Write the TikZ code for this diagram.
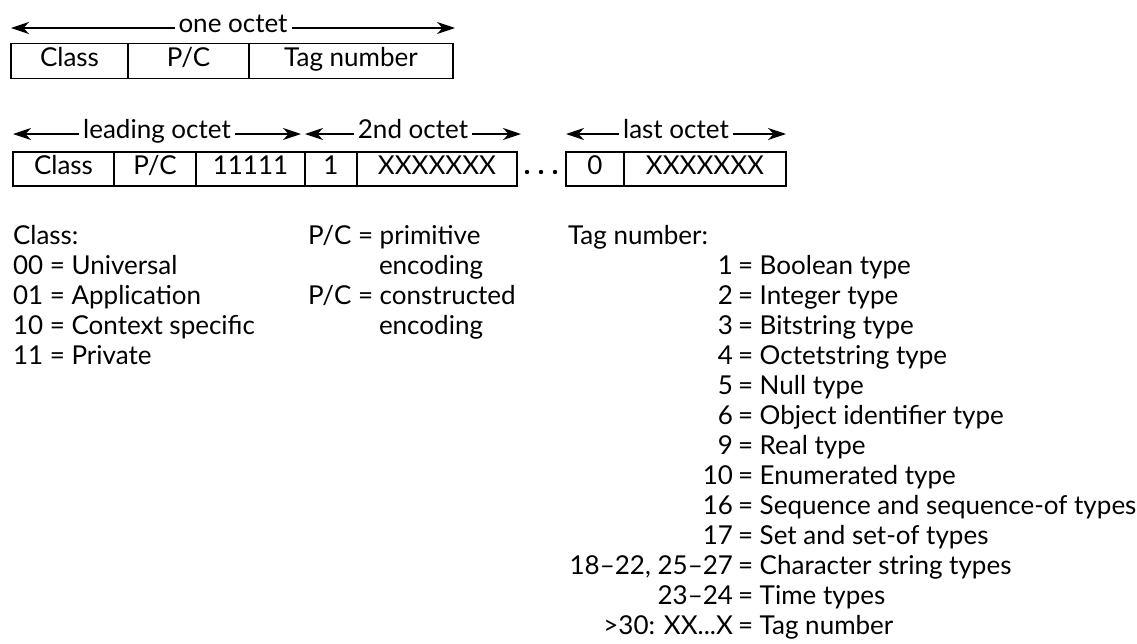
\documentclass[tikz,border=0pt]{standalone}
\usepackage{fontspec}
\setmainfont{Lato}
\usetikzlibrary{arrows.meta}
\begin{document}
\begin{tikzpicture}[x=1pt,y=-1pt,
  every node/.style={font=\fontsize{26}{30}\selectfont, inner sep=0pt, outer sep=0pt},
  field/.style={draw, line width=1.6pt, anchor=west, minimum height=#1,
                text height=13.5pt, text depth=3.5pt},
  field/.default=35pt,
  span/.style={line width=1.4pt,
               {Stealth[length=18pt,width=12pt,inset=5.5pt]}-{Stealth[length=18pt,width=12pt,inset=5.5pt]}},
  spanlabel/.style={fill=white, inner xsep=4pt, inner ysep=2pt, text height=13pt, text depth=5pt},
  txt/.style={anchor=base west},
  num/.style={anchor=base east}]
\useasboundingbox (0,0) rectangle (1137,643);

% one-octet identifier
\coordinate (o1l) at (11,28);
\coordinate (o1r) at (455,28);
\draw[span] (o1l) -- (o1r) node[midway, spanlabel] (o1lab) {one octet};
\node[field, minimum width=117pt] (a1) at (11,61)  {Class};
\node[field, minimum width=121pt] (a2) at (128,61) {P/C};
\node[field, minimum width=204pt] (a3) at (249,61) {Tag number};

% multi-octet identifier
\coordinate (l1) at (13,134);  \coordinate (l2) at (301,134);
\coordinate (s1) at (305,134); \coordinate (s2) at (521,134);
\coordinate (t1) at (566,134); \coordinate (t2) at (786,134);
\draw[span] (l1) -- (l2) node[midway, spanlabel] (llab) {leading octet};
\draw[span] (s1) -- (s2) node[midway, spanlabel] (slab) {2nd octet};
\draw[span] (t1) -- (t2) node[midway, spanlabel] (tlab) {last octet};

\node[field=34pt, minimum width=101pt] (b1) at (13,169)  {Class};
\node[field=34pt, minimum width=82pt]  (b2) at (114,169) {P/C};
\node[field=34pt, minimum width=109pt] (b3) at (196,169) {11111};
\node[field=34pt, minimum width=52pt]  (b4) at (305,169) {1};
\node[field=34pt, minimum width=160pt] (b5) at (357,169) {XXXXXXX};
\node[field=34pt, minimum width=58pt]  (c1) at (566,169) {0};
\node[field=34pt, minimum width=162pt] (c2) at (624,169) {XXXXXXX};
\foreach \dx in {527,541,555} \fill (\dx,172) circle (2.2pt);

% class legend
\node[txt] (cl0) at (13,244) {Class:};
\node[txt] (cl1) at (13,274) {00 = Universal};
\node[txt] (cl2) at (13,304) {01 = Application};
\node[txt] (cl3) at (13,334) {10 = Context specific};
\node[txt] (cl4) at (13,364) {11 = Private};

% primitive / constructed legend
\node[txt] (pc1) at (308,244) {P/C = primitive};
\node[txt] (pc2) at (379,274) {encoding};
\node[txt] (pc3) at (308,304) {P/C = constructed};
\node[txt] (pc4) at (379,334) {encoding};

% tag number legend
\node[txt] (tg0) at (568,244) {Tag number:};
\foreach [count=\k from 0] \n/\d in {
    1/Boolean type,
    2/Integer type,
    3/Bitstring type,
    4/Octetstring type,
    5/Null type,
    6/Object identifier type,
    9/Real type,
    10/Enumerated type,
    16/Sequence and sequence-of types,
    17/Set and set-of types,
    {18--22, 25--27}/Character string types,
    23--24/Time types,
    {>30: XX...X}/Tag number} {
  \node[num] (tn\k) at (733,274+30*\k) {\n};
  \node[txt] (td\k) at (738,274+30*\k) {= \d};
}
\end{tikzpicture}
\end{document}
